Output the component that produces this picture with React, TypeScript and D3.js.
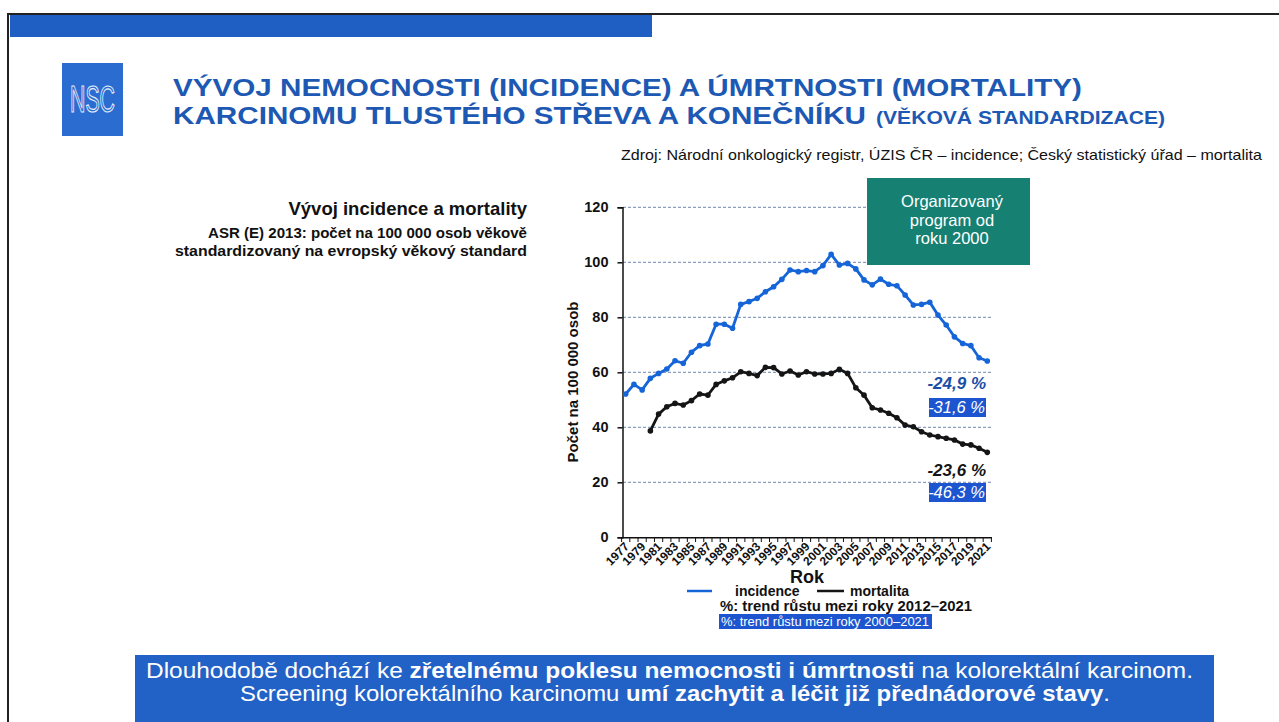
import React, { useEffect, useRef } from "react";
import * as d3 from "d3";

const years = d3.range(1977, 2022);

// incidence, per 100 000 (ASR E 2013), 1977–2021
const incidence = [
  52.1, 55.6, 53.6, 57.8, 59.6, 61.2, 64.2, 63.3, 67.3, 69.7, 70.3, 77.5, 77.5,
  76.0, 84.7, 85.7, 86.9, 89.3, 91.1, 93.8, 97.2, 96.6, 97.0, 96.6, 98.8, 102.9,
  99.0, 99.6, 97.6, 93.6, 91.8, 93.9, 92.0, 91.5, 88.1, 84.5, 84.7, 85.5, 80.8,
  77.2, 72.9, 70.5, 69.7, 65.3, 64.1,
];

// mortality starts in 1980
const mortalityStart = 1980;
const mortality = [
  38.7, 44.8, 47.5, 48.7, 48.1, 49.7, 52.1, 51.7, 55.6, 56.9, 58.0, 60.2, 59.6,
  58.8, 61.8, 61.7, 59.4, 60.5, 59.0, 60.2, 59.4, 59.4, 59.6, 61.1, 59.6, 54.4,
  51.7, 47.1, 46.3, 45.1, 43.5, 40.8, 40.2, 38.4, 37.2, 36.6, 36.0, 35.4, 33.9,
  33.6, 32.4, 30.9,
];

const yTicks = [0, 20, 40, 60, 80, 100, 120];

const trend2012 = { incidence: "-24,9 %", mortality: "-23,6 %" };
const trend2000 = { incidence: "-31,6 %", mortality: "-46,3 %" };

const BLUE = "#1f5fc4";
const TITLE = "#1d58b3";
const LINE_BLUE = "#1565d8";
const FONT = "'Liberation Sans', Arial, sans-serif";

function Slide() {
  const svgRef = useRef<SVGSVGElement>(null);

  useEffect(() => {
    const W = 1279;
    const H = 722;
    const svg = d3.select(svgRef.current).attr("width", W).attr("height", H);
    svg.selectAll("*").remove();
    svg.style("font-family", FONT);

    // frame + top band
    svg.append("rect").attr("width", W).attr("height", H).attr("fill", "#fff");
    svg
      .append("path")
      .attr("d", `M8,${H} L8,14 L${W},14`)
      .attr("fill", "none")
      .attr("stroke", "#222")
      .attr("stroke-width", 2);
    svg
      .append("rect")
      .attr("x", 10)
      .attr("y", 15)
      .attr("width", 642)
      .attr("height", 22)
      .attr("fill", BLUE);

    // logo
    svg
      .append("rect")
      .attr("x", 62)
      .attr("y", 63)
      .attr("width", 61)
      .attr("height", 73)
      .attr("fill", "#2a6cd0");
    svg
      .append("text")
      .attr("x", 70)
      .attr("y", 112)
      .attr("font-size", 36)
      .attr("fill", "#2a6cd0")
      .attr("stroke", "#e8f0ff")
      .attr("stroke-width", 1.2)
      .attr("textLength", 45)
      .attr("lengthAdjust", "spacingAndGlyphs")
      .text("NSC");

    // title
    svg
      .append("text")
      .attr("x", 173)
      .attr("y", 96)
      .attr("font-size", 24.5)
      .attr("font-weight", "bold")
      .attr("fill", TITLE)
      .attr("textLength", 909)
      .attr("lengthAdjust", "spacingAndGlyphs")
      .text("VÝVOJ NEMOCNOSTI (INCIDENCE) A ÚMRTNOSTI (MORTALITY)");
    svg
      .append("text")
      .attr("x", 173)
      .attr("y", 124)
      .attr("font-size", 24.5)
      .attr("font-weight", "bold")
      .attr("fill", TITLE)
      .attr("textLength", 693)
      .attr("lengthAdjust", "spacingAndGlyphs")
      .text("KARCINOMU TLUSTÉHO STŘEVA A KONEČNÍKU");
    svg
      .append("text")
      .attr("x", 876)
      .attr("y", 124)
      .attr("font-size", 19)
      .attr("font-weight", "bold")
      .attr("fill", TITLE)
      .attr("textLength", 289)
      .attr("lengthAdjust", "spacingAndGlyphs")
      .text("(VĚKOVÁ STANDARDIZACE)");

    svg
      .append("text")
      .attr("x", 1262)
      .attr("y", 160)
      .attr("text-anchor", "end")
      .attr("font-size", 14.5)
      .attr("fill", "#111")
      .attr("textLength", 641)
      .attr("lengthAdjust", "spacingAndGlyphs")
      .text(
        "Zdroj: Národní onkologický registr, ÚZIS ČR – incidence; Český statistický úřad – mortalita"
      );

    // left description
    svg
      .append("text")
      .attr("x", 527)
      .attr("y", 215)
      .attr("text-anchor", "end")
      .attr("font-size", 18.5)
      .attr("font-weight", "bold")
      .attr("fill", "#111")
      .text("Vývoj incidence a mortality");
    ["ASR (E) 2013: počet na 100 000 osob věkově", "standardizovaný na evropský věkový standard"].forEach(
      (s, i) => {
        svg
          .append("text")
          .attr("x", 527)
          .attr("y", 238 + i * 18)
          .attr("text-anchor", "end")
          .attr("font-size", 15.5)
          .attr("font-weight", "bold")
          .attr("fill", "#111")
          .attr("textLength", i === 0 ? 319 : 352)
          .attr("lengthAdjust", "spacingAndGlyphs")
          .text(s);
      }
    );

    // chart scales
    const x = d3.scaleBand<number>().domain(years).range([621.6, 991.4]).padding(0);
    const y = d3.scaleLinear().domain([0, 120]).range([537.3, 207.3]);
    const cx = (yr: number) => (x(yr) as number) + x.bandwidth() / 2;

    // gridlines
    svg
      .append("g")
      .selectAll("line")
      .data(yTicks.filter((d) => d > 0))
      .join("line")
      .attr("x1", 623)
      .attr("x2", 991)
      .attr("y1", (d) => y(d))
      .attr("y2", (d) => y(d))
      .attr("stroke", "#6f86b0")
      .attr("stroke-width", 1)
      .attr("stroke-dasharray", "3,2");

    // y axis
    const yAxis = svg
      .append("g")
      .attr("transform", "translate(622.5,0)")
      .call(d3.axisLeft(y).tickValues(yTicks).tickSize(5).tickPadding(9));
    yAxis.select(".domain").attr("stroke", "#111").attr("stroke-width", 1.5);
    yAxis.selectAll(".tick line").attr("stroke", "#111").attr("stroke-width", 1.5);
    yAxis
      .selectAll(".tick text")
      .attr("font-size", 14.5)
      .attr("font-weight", "bold")
      .attr("font-family", FONT)
      .attr("fill", "#111");

    // x axis
    const xAxis = svg
      .append("g")
      .attr("transform", "translate(0,537.3)")
      .call(
        d3
          .axisBottom(x)
          .tickSize(0)
          .tickFormat((d) => ((d as number) % 2 === 1 ? String(d) : ""))
      );
    xAxis.select(".domain").attr("stroke", "#111").attr("stroke-width", 1.5);
    xAxis
      .selectAll(".tick text")
      .attr("font-size", 12)
      .attr("font-weight", "bold")
      .attr("font-family", FONT)
      .attr("fill", "#111")
      .attr("text-anchor", "end")
      .attr("dy", 0)
      .attr("y", 0)
      .attr("transform", "translate(4,10) rotate(-45)");
    // year-boundary tick marks
    svg
      .append("g")
      .selectAll("line")
      .data([...years, 2022])
      .join("line")
      .attr("x1", (d) => (d === 2022 ? 991.4 : (x(d) as number)))
      .attr("x2", (d) => (d === 2022 ? 991.4 : (x(d) as number)))
      .attr("y1", 537.3)
      .attr("y2", 542)
      .attr("stroke", "#111")
      .attr("stroke-width", 1);

    // lines
    const incData = years.map((yr, i) => ({ yr, v: incidence[i] }));
    const morData = mortality.map((v, i) => ({ yr: mortalityStart + i, v }));
    const line = d3
      .line<{ yr: number; v: number }>()
      .x((d) => cx(d.yr))
      .y((d) => y(d.v));

    [
      { data: incData, color: LINE_BLUE },
      { data: morData, color: "#151515" },
    ].forEach((s) => {
      svg
        .append("path")
        .datum(s.data)
        .attr("fill", "none")
        .attr("stroke", s.color)
        .attr("stroke-width", 2.8)
        .attr("d", line);
      svg
        .append("g")
        .selectAll("circle")
        .data(s.data)
        .join("circle")
        .attr("cx", (d) => cx(d.yr))
        .attr("cy", (d) => y(d.v))
        .attr("r", 2.8)
        .attr("fill", s.color);
    });

    // program box
    svg
      .append("rect")
      .attr("x", 867)
      .attr("y", 178)
      .attr("width", 163)
      .attr("height", 87)
      .attr("fill", "#168073");
    ["Organizovaný", "program od", "roku 2000"].forEach((s, i) => {
      svg
        .append("text")
        .attr("x", 952)
        .attr("y", 207 + i * 18.5)
        .attr("text-anchor", "middle")
        .attr("font-size", 16.5)
        .attr("fill", "#fff")
        .text(s);
    });

    // trend annotations
    const annot = (label: string, yy: number, color: string) =>
      svg
        .append("text")
        .attr("x", 986)
        .attr("y", yy)
        .attr("text-anchor", "end")
        .attr("font-size", 17)
        .attr("font-weight", "bold")
        .attr("font-style", "italic")
        .attr("fill", color)
        .text(label);
    const boxed = (label: string, yy: number) => {
      svg
        .append("rect")
        .attr("x", 929)
        .attr("y", yy - 15)
        .attr("width", 57)
        .attr("height", 19)
        .attr("fill", "#1c55cf");
      svg
        .append("text")
        .attr("x", 985)
        .attr("y", yy)
        .attr("text-anchor", "end")
        .attr("font-size", 16.5)
        .attr("font-style", "italic")
        .attr("fill", "#fff")
        .text(label);
    };
    annot(trend2012.incidence, 389, "#1a4fa8");
    boxed(trend2000.incidence, 413);
    annot(trend2012.mortality, 476, "#151515");
    boxed(trend2000.mortality, 498);

    // axis titles
    svg
      .append("text")
      .attr("transform", "translate(578,382) rotate(-90)")
      .attr("text-anchor", "middle")
      .attr("font-size", 15)
      .attr("font-weight", "bold")
      .attr("fill", "#111")
      .text("Počet na 100 000 osob");
    svg
      .append("text")
      .attr("x", 807)
      .attr("y", 583)
      .attr("text-anchor", "middle")
      .attr("font-size", 18)
      .attr("font-weight", "bold")
      .attr("fill", "#111")
      .text("Rok");

    // legend
    svg
      .append("line")
      .attr("x1", 687)
      .attr("x2", 712)
      .attr("y1", 591)
      .attr("y2", 591)
      .attr("stroke", LINE_BLUE)
      .attr("stroke-width", 2.5);
    svg
      .append("text")
      .attr("x", 735)
      .attr("y", 596)
      .attr("font-size", 14)
      .attr("font-weight", "bold")
      .attr("fill", "#111")
      .text("incidence");
    svg
      .append("line")
      .attr("x1", 817)
      .attr("x2", 844)
      .attr("y1", 591)
      .attr("y2", 591)
      .attr("stroke", "#151515")
      .attr("stroke-width", 2.5);
    svg
      .append("text")
      .attr("x", 850)
      .attr("y", 596)
      .attr("font-size", 14)
      .attr("font-weight", "bold")
      .attr("fill", "#111")
      .text("mortalita");
    svg
      .append("text")
      .attr("x", 720)
      .attr("y", 611)
      .attr("font-size", 14.5)
      .attr("font-weight", "bold")
      .attr("fill", "#111")
      .attr("textLength", 252)
      .attr("lengthAdjust", "spacingAndGlyphs")
      .text("%: trend růstu mezi roky 2012–2021");
    svg
      .append("rect")
      .attr("x", 719)
      .attr("y", 614)
      .attr("width", 213)
      .attr("height", 15)
      .attr("fill", "#1c55cf");
    svg
      .append("text")
      .attr("x", 721)
      .attr("y", 626)
      .attr("font-size", 13)
      .attr("fill", "#fff")
      .attr("textLength", 208)
      .attr("lengthAdjust", "spacingAndGlyphs")
      .text("%: trend růstu mezi roky 2000–2021");

    // bottom banner
    svg
      .append("rect")
      .attr("x", 135)
      .attr("y", 655)
      .attr("width", 1079)
      .attr("height", 67)
      .attr("fill", "#2262c6");
    const b1 = svg
      .append("text")
      .attr("x", 146)
      .attr("y", 678)
      .attr("font-size", 22.5)
      .attr("fill", "#fff")
      .attr("textLength", 1047)
      .attr("lengthAdjust", "spacingAndGlyphs");
    b1.append("tspan").text("Dlouhodobě dochází ke ");
    b1.append("tspan").attr("font-weight", "bold").text("zřetelnému poklesu nemocnosti i úmrtnosti");
    b1.append("tspan").text(" na kolorektální karcinom.");
    const b2 = svg
      .append("text")
      .attr("x", 240)
      .attr("y", 701)
      .attr("font-size", 22.5)
      .attr("fill", "#fff")
      .attr("textLength", 870)
      .attr("lengthAdjust", "spacingAndGlyphs");
    b2.append("tspan").text("Screening kolorektálního karcinomu ");
    b2.append("tspan").attr("font-weight", "bold").text("umí zachytit a léčit již přednádorové stavy");
    b2.append("tspan").text(".");
  }, []);

  return (
    <svg
      ref={svgRef}
      style={{ position: "absolute", left: 0, top: 0, display: "block" }}
    />
  );
}

export default function App() {
  return <Slide />;
}
